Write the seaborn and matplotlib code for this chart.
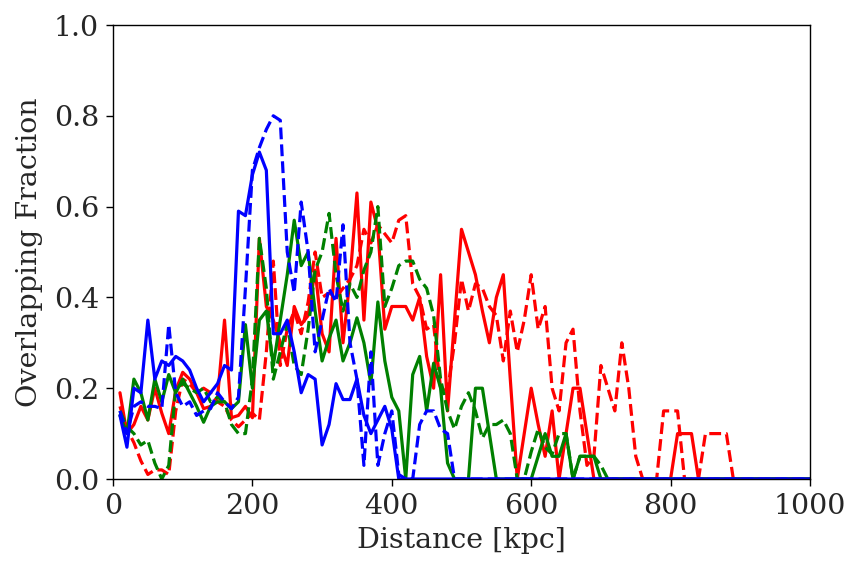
import seaborn as sns
import matplotlib.pyplot as plt
import pandas as pd

distancia = list(range(10, 1001, 10))

azul_solido = [
    0.14, 0.07, 0.20, 0.19, 0.35, 0.22, 0.26, 0.25, 0.27, 0.26,
    0.24, 0.20, 0.17, 0.19, 0.21, 0.25, 0.24, 0.59, 0.58, 0.67,
    0.72, 0.68, 0.32, 0.32, 0.35, 0.28, 0.19, 0.23, 0.22, 0.075,
    0.12, 0.21, 0.175, 0.175, 0.22, 0.14, 0.10, 0.13, 0.16, 0.11,
    0.0, 0.0, 0.0, 0.0, 0.0, 0.0, 0.0, 0.0, 0.0, 0.0,
    0.0, 0.0, 0.0, 0.0, 0.0, 0.0, 0.0, 0.0, 0.0, 0.0,
    0.0, 0.0, 0.0, 0.0, 0.0, 0.0, 0.0, 0.0, 0.0, 0.0,
    0.0, 0.0, 0.0, 0.0, 0.0, 0.0, 0.0, 0.0, 0.0, 0.0,
    0.0, 0.0, 0.0, 0.0, 0.0, 0.0, 0.0, 0.0, 0.0, 0.0,
    0.0, 0.0, 0.0, 0.0, 0.0, 0.0, 0.0, 0.0, 0.0, 0.0,
]
azul_tracejado = [
    0.15, 0.10, 0.16, 0.17, 0.16, 0.16, 0.155, 0.34, 0.19, 0.16,
    0.17, 0.14, 0.15, 0.155, 0.19, 0.17, 0.155, 0.18, 0.42, 0.68,
    0.73, 0.77, 0.80, 0.79, 0.50, 0.41, 0.61, 0.50, 0.28, 0.35,
    0.42, 0.39, 0.56, 0.30, 0.22, 0.03, 0.28, 0.03, 0.10, 0.15,
    0.01, 0.0, 0.0, 0.12, 0.15, 0.15, 0.11, 0.10, 0.0, 0.0,
    0.0, 0.0, 0.0, 0.0, 0.0, 0.0, 0.0, 0.0, 0.0, 0.0,
    0.0, 0.0, 0.0, 0.0, 0.0, 0.0, 0.0, 0.0, 0.0, 0.0,
    0.0, 0.0, 0.0, 0.0, 0.0, 0.0, 0.0, 0.0, 0.0, 0.0,
    0.0, 0.0, 0.0, 0.0, 0.0, 0.0, 0.0, 0.0, 0.0, 0.0,
    0.0, 0.0, 0.0, 0.0, 0.0, 0.0, 0.0, 0.0, 0.0, 0.0,
]
vermelho_solido = [
    0.19, 0.10, 0.12, 0.16, 0.13, 0.20, 0.145, 0.10, 0.195, 0.235,
    0.22, 0.19, 0.155, 0.16, 0.18, 0.35, 0.135, 0.14, 0.16, 0.135,
    0.53, 0.38, 0.35, 0.30, 0.25, 0.38, 0.34, 0.36, 0.46, 0.32,
    0.28, 0.53, 0.30, 0.44, 0.63, 0.35, 0.61, 0.55, 0.33, 0.38,
    0.38, 0.38, 0.35, 0.40, 0.27, 0.20, 0.45, 0.15, 0.35, 0.55,
    0.50, 0.45, 0.37, 0.30, 0.40, 0.45, 0.22, 0.0, 0.10, 0.20,
    0.12, 0.05, 0.15, 0.0, 0.10, 0.20, 0.20, 0.10, 0.0, 0.0,
    0.0, 0.0, 0.0, 0.0, 0.0, 0.0, 0.0, 0.0, 0.0, 0.0,
    0.10, 0.10, 0.10, 0.0, 0.0, 0.0, 0.0, 0.0, 0.0, 0.0,
    0.0, 0.0, 0.0, 0.0, 0.0, 0.0, 0.0, 0.0, 0.0, 0.0,
]
vermelho_tracejado = [
    0.16, 0.11, 0.08, 0.04, 0.01, 0.02, 0.02, 0.01, 0.15, 0.22,
    0.21, 0.19, 0.20, 0.19, 0.17, 0.16, 0.13, 0.115, 0.13, 0.145,
    0.13, 0.28, 0.48, 0.25, 0.33, 0.37, 0.32, 0.39, 0.50, 0.40,
    0.41, 0.40, 0.42, 0.44, 0.47, 0.55, 0.52, 0.56, 0.54, 0.52,
    0.57, 0.58, 0.43, 0.40, 0.33, 0.34, 0.20, 0.195, 0.30, 0.44,
    0.37, 0.43, 0.42, 0.38, 0.36, 0.26, 0.37, 0.28, 0.35, 0.45,
    0.33, 0.38, 0.20, 0.15, 0.30, 0.33, 0.15, 0.03, 0.05, 0.25,
    0.20, 0.15, 0.30, 0.20, 0.05, 0.0, 0.0, 0.0, 0.15, 0.15,
    0.15, 0.0, 0.0, 0.0, 0.10, 0.10, 0.10, 0.10, 0.0, 0.0,
    0.0, 0.0, 0.0, 0.0, 0.0, 0.0, 0.0, 0.0, 0.0, 0.0,
]
verde_solido = [
    0.14, 0.10, 0.22, 0.19, 0.13, 0.22, 0.17, 0.23, 0.19, 0.22,
    0.19, 0.16, 0.125, 0.16, 0.17, 0.17, 0.155, 0.17, 0.34, 0.20,
    0.35, 0.37, 0.25, 0.35, 0.45, 0.57, 0.47, 0.50, 0.37, 0.26,
    0.31, 0.35, 0.26, 0.30, 0.355, 0.30, 0.21, 0.39, 0.26, 0.18,
    0.15, 0.0, 0.23, 0.27, 0.15, 0.255, 0.20, 0.035, 0.0, 0.0,
    0.0, 0.20, 0.20, 0.10, 0.0, 0.0, 0.0, 0.0, 0.0, 0.0,
    0.05, 0.10, 0.05, 0.05, 0.10, 0.0, 0.05, 0.05, 0.05, 0.0,
    0.0, 0.0, 0.0, 0.0, 0.0, 0.0, 0.0, 0.0, 0.0, 0.0,
    0.0, 0.0, 0.0, 0.0, 0.0, 0.0, 0.0, 0.0, 0.0, 0.0,
    0.0, 0.0, 0.0, 0.0, 0.0, 0.0, 0.0, 0.0, 0.0, 0.0,
]
verde_tracejado = [
    0.15, 0.115, 0.10, 0.075, 0.085, 0.035, 0.0, 0.03, 0.20, 0.21,
    0.20, 0.19, 0.20, 0.17, 0.18, 0.17, 0.12, 0.10, 0.10, 0.22,
    0.53, 0.42, 0.22, 0.28, 0.34, 0.25, 0.23, 0.33, 0.46, 0.50,
    0.585, 0.45, 0.37, 0.43, 0.40, 0.46, 0.50, 0.60, 0.38, 0.42,
    0.47, 0.48, 0.48, 0.44, 0.42, 0.36, 0.22, 0.15, 0.11, 0.16,
    0.19, 0.15, 0.09, 0.12, 0.12, 0.13, 0.10, 0.0, 0.0, 0.06,
    0.11, 0.07, 0.055, 0.10, 0.10, 0.0, 0.05, 0.05, 0.05, 0.03,
    0.0, 0.0, 0.0, 0.0, 0.0, 0.0, 0.0, 0.0, 0.0, 0.0,
    0.0, 0.0, 0.0, 0.0, 0.0, 0.0, 0.0, 0.0, 0.0, 0.0,
    0.0, 0.0, 0.0, 0.0, 0.0, 0.0, 0.0, 0.0, 0.0, 0.0,
]

df = pd.DataFrame({
    'dist': distancia,
    'vs': vermelho_solido, 'vt': vermelho_tracejado,
    'gs': verde_solido, 'gt': verde_tracejado,
    'bs': azul_solido, 'bt': azul_tracejado,
})

sns.set_style('ticks')
plt.rcParams['font.family'] = ['DejaVu Serif']

fig, ax = plt.subplots(figsize=(8.63, 5.74), dpi=100)
fig.subplots_adjust(left=113/863, right=810/863, top=1-25/574, bottom=1-479/574)

lw = 2.3
sns.lineplot(data=df, x='dist', y='vs', color='red', lw=lw, ax=ax)
sns.lineplot(data=df, x='dist', y='vt', color='red', lw=lw, ls='--', ax=ax)
sns.lineplot(data=df, x='dist', y='gs', color='green', lw=lw, ax=ax)
sns.lineplot(data=df, x='dist', y='gt', color='green', lw=lw, ls='--', ax=ax)
sns.lineplot(data=df, x='dist', y='bs', color='blue', lw=lw, ax=ax)
sns.lineplot(data=df, x='dist', y='bt', color='blue', lw=lw, ls='--', ax=ax)

ax.set_xlim(0, 1000)
ax.set_ylim(0, 1.0)
ax.set_xticks([0, 200, 400, 600, 800, 1000])
ax.set_yticks([0.0, 0.2, 0.4, 0.6, 0.8, 1.0])
ax.tick_params(labelsize=20.5, direction='out', length=5, width=1, color='black', pad=5)
ax.set_xlabel('Distance [kpc]', fontsize=20.5, labelpad=5)
ax.set_ylabel('Overlapping Fraction', fontsize=20.5, labelpad=8)
for s in ax.spines.values():
    s.set_color('black')
    s.set_linewidth(1)

fig.savefig('out.png', dpi=100)
